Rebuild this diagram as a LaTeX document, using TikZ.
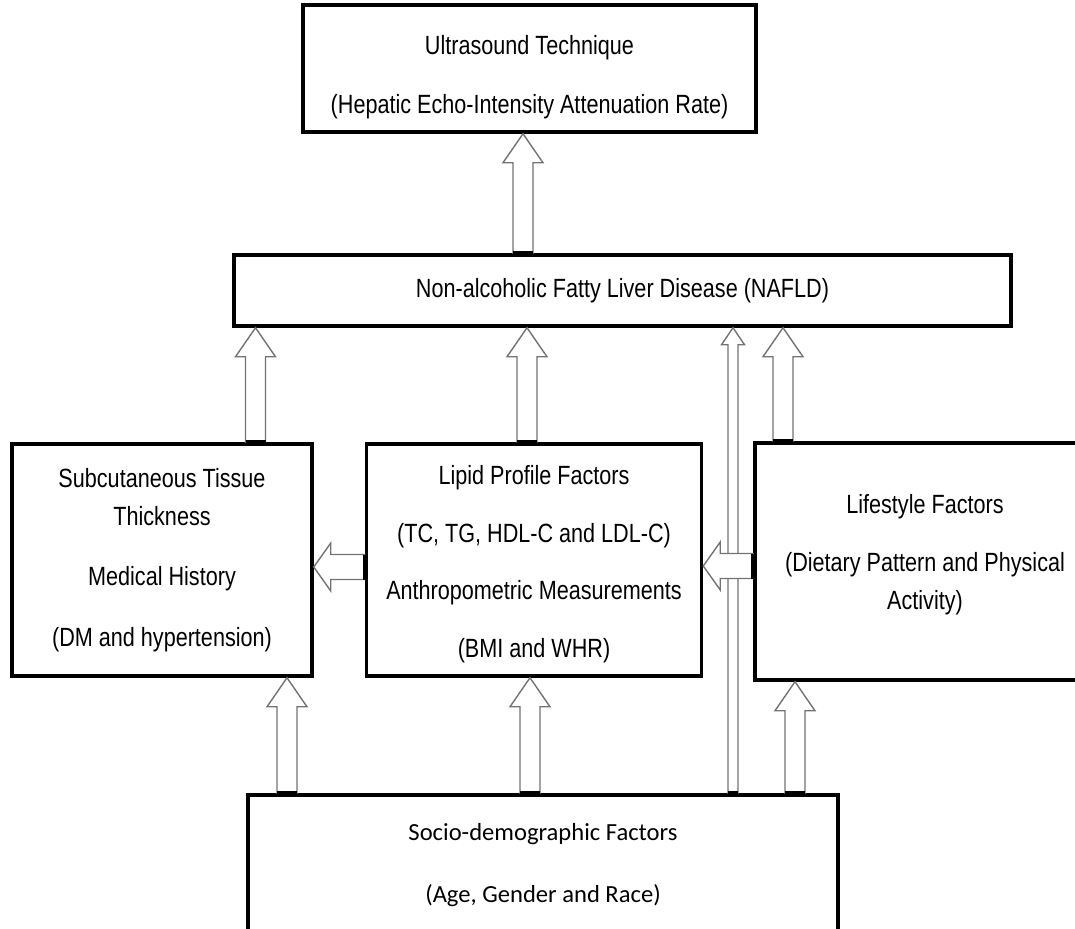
\documentclass[tikz,border=0pt]{standalone}
\usepackage{fontspec}
\setmainfont{Liberation Sans}[FakeStretch=0.82]
\newfontfamily\socfont{Carlito}
\usepackage{tikz}
\usetikzlibrary{calc}

\newcommand{\px}{0.02cm}
% hollow block arrow going up: x, box at base, box at tip
\newcommand{\upblock}[3]{%
  \path (#1,0 |- #2.north) coordinate (base) (#1,0 |- #3.south) coordinate (tip);
  \draw[blockarrow] ($(base)+(-10,0)$) -- ($(tip)+(-10,29)$) -- ($(tip)+(-20,29)$) -- (tip)
    -- ($(tip)+(20,29)$) -- ($(tip)+(10,29)$) -- ($(base)+(10,0)$) -- cycle;
  \draw[arrowfoot] ($(base)+(-10,0)$) -- ($(base)+(10,0)$);}
% hollow block arrow going left: y, box at base, box at tip
\newcommand{\leftblock}[3]{%
  \path (#2.west |- 0,#1) coordinate (base) (#3.east |- 0,#1) coordinate (tip);
  \draw[blockarrow] ($(base)+(0,-12.5)$) -- ($(tip)+(17,-12.5)$) -- ($(tip)+(17,-24)$) -- (tip)
    -- ($(tip)+(17,24)$) -- ($(tip)+(17,12.5)$) -- ($(base)+(0,12.5)$) -- cycle;
  \draw[arrowfoot] ($(base)+(0,-12.5)$) -- ($(base)+(0,12.5)$);}

\tikzset{
  box/.style={draw, line width=2pt, fill=white, inner sep=0pt, align=center,
    font=\fontsize{15}{21.5}\selectfont},
  blockarrow/.style={draw=black!55, line width=0.8pt, fill=white, line join=miter},
  arrowfoot/.style={line width=2.4pt}
}

\begin{document}
\begin{tikzpicture}[x=\px, y=-\px]
  \useasboundingbox (0,0) rectangle (1075,929);

  \node[box, minimum width=453*\px, minimum height=127*\px] (us) at (529.5,68.5)
    {\rule{0pt}{21pt}Ultrasound Technique\\[12pt](Hepatic Echo-Intensity Attenuation Rate)};
  \node[box, minimum width=777*\px, minimum height=71*\px] (nafld) at (622.5,290.5)
    {Non-alcoholic Fatty Liver Disease (NAFLD)};
  \node[box, minimum width=300*\px, minimum height=232*\px] (sub) at (162,560)
    {Subcutaneous Tissue\\Thickness\\[13pt]Medical History\\[13pt](DM and hypertension)};
  \node[box, minimum width=335*\px, minimum height=232*\px] (lipid) at (534,560)
    {\rule{0pt}{15.5pt}Lipid Profile Factors\\[11.3pt](TC, TG, HDL-C and LDL-C)\\[11.3pt]Anthropometric Measurements\\[11.3pt](BMI and WHR)};
  \node[box, minimum width=340*\px, minimum height=237*\px] (life) at (925,561.5)
    {Lifestyle Factors\\[11.3pt](Dietary Pattern and Physical\\Activity)\rule[-11pt]{0pt}{11pt}};
  \node[box, minimum width=590*\px, minimum height=140*\px,
        font=\socfont\fontsize{14}{35.7}\selectfont] (socio) at (543,865)
    {Socio-demographic Factors\\(Age, Gender and Race)};

  % arrows between the boxes
  \upblock{523}{nafld}{us}
  \upblock{255.5}{sub}{nafld}
  \upblock{527}{lipid}{nafld}
  \upblock{783}{life}{nafld}
  \upblock{287}{socio}{sub}
  \upblock{530}{socio}{lipid}
  \upblock{795}{socio}{life}
  % thin one from the bottom straight to NAFLD
  \path (733,0 |- socio.north) coordinate (thinbase) (733,0 |- nafld.south) coordinate (thintip);
  \draw[blockarrow] ($(thinbase)+(-5,0)$) -- ($(thintip)+(-5,17)$) -- ($(thintip)+(-11.5,17)$) -- (thintip)
    -- ($(thintip)+(11.5,17)$) -- ($(thintip)+(5,17)$) -- ($(thinbase)+(5,0)$) -- cycle;
  \draw[arrowfoot] ($(thinbase)+(-5,0)$) -- ($(thinbase)+(5,0)$);
  \leftblock{567}{lipid}{sub}
  \leftblock{566}{life}{lipid}
\end{tikzpicture}
\end{document}
